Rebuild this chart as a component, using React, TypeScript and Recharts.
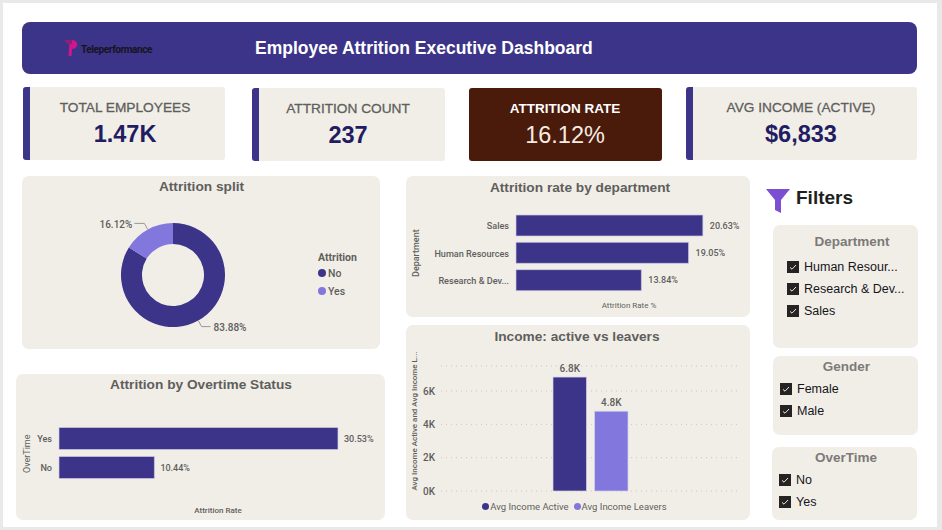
import React from "react";
import {
  Bar,
  BarChart,
  CartesianGrid,
  Cell,
  LabelList,
  Legend,
  Pie,
  PieChart,
  XAxis,
  YAxis
} from "recharts";

const splitNames = ["No", "Yes"];
const splitValues = [83.88, 16.12];

const departments = ["Sales", "Human Resources", "Research & Development"];
const departmentRates = [20.63, 19.05, 13.84];

const overtimeNames = ["Yes", "No"];
const overtimeRates = [30.53, 10.44];

const incomeActive = 6833;
const incomeLeavers = 4787;
const incomeTicks = [0, 2000, 4000, 6000];

const kpis = [
  { title: "TOTAL EMPLOYEES", value: "1.47K" },
  { title: "ATTRITION COUNT", value: "237" },
  { title: "ATTRITION RATE", value: "16.12%" },
  { title: "AVG INCOME (ACTIVE)", value: "$6,833" }
];
const kpiBoxes = [
  { x: 23, y: 87, w: 202, h: 73, cx: 125 },
  { x: 252, y: 88, w: 193, h: 73, cx: 348 },
  { x: 469, y: 88, w: 193, h: 73, cx: 565 },
  { x: 686, y: 87, w: 231, h: 73, cx: 801 }
];

const departmentFilter = ["Human Resour...", "Research & Dev...", "Sales"];
const genderFilter = ["Female", "Male"];
const overtimeFilter = ["No", "Yes"];

const PURPLE = "#3c3488";
const LILAC = "#8177dd";
const CARD = "#f1eee8";
const TEXT = "#605e5c";
const UI_FONT = "'Liberation Sans', Arial, sans-serif";
const CHART_FONT = "Roboto, 'Noto Sans', sans-serif";

const splitData = splitNames.map((name, i) => ({ name, value: splitValues[i] }));
const departmentData = departments.map((name, i) => ({ name, rate: departmentRates[i] }));
const overtimeData = overtimeNames.map((name, i) => ({ name, rate: overtimeRates[i] }));
const incomeData = [{ name: "Income", active: incomeActive, leavers: incomeLeavers }];

const tickStyle = { fontSize: 10, fontFamily: CHART_FONT, fontWeight: 500, fill: TEXT };
const nameTickStyle = { fontSize: 9.1, fontFamily: CHART_FONT, fontWeight: 500, fill: TEXT };
const axisTitle = { fontSize: 8, fontFamily: CHART_FONT, fontWeight: 500, fill: TEXT };
const barValueStyle = { fontSize: 9, fontFamily: CHART_FONT, fontWeight: 500, fill: TEXT };
const valueStyle = { fontSize: 10, fontFamily: CHART_FONT, fontWeight: 500, fill: TEXT };

function box(x: number, y: number, w: number, h: number, extra: React.CSSProperties = {}): React.CSSProperties {
  return { position: "absolute", left: x, top: y, width: w, height: h, ...extra };
}

function centered(text: string, cx: number, cy: number, style: React.CSSProperties) {
  return (
    <div
      style={{
        position: "absolute",
        left: cx - 150,
        top: cy - 15,
        width: 300,
        height: 30,
        lineHeight: "30px",
        textAlign: "center",
        whiteSpace: "nowrap",
        fontFamily: UI_FONT,
        ...style
      }}
    >
      {text}
    </div>
  );
}

function shortName(name: string) {
  return name.length > 18 ? name.slice(0, 14) + "..." : name;
}

function percentLabel(value: any) {
  return Number(value).toFixed(2) + "%";
}

function kiloLabel(value: any) {
  return (Number(value) / 1000).toFixed(1) + "K";
}

// the default tick wraps long names, Power BI keeps them on one line
function NameTick(props: any) {
  const { x, y, payload } = props;
  return (
    <text x={x - 1} y={y + 3.5} textAnchor="end" style={nameTickStyle}>
      {shortName(String(payload.value))}
    </text>
  );
}

function PieLabel(props: any) {
  const { cx, cy, midAngle, outerRadius, value } = props;
  const rad = (midAngle * Math.PI) / 180;
  const px = (r: number) => cx + r * Math.cos(rad);
  const py = (r: number) => cy - r * Math.sin(rad);
  const right = Math.cos(rad) > 0;
  const ex = px(outerRadius + 7);
  const ey = py(outerRadius + 7);
  const hx = ex + (right ? 9 : -10);
  return (
    <g>
      <polyline
        points={`${px(outerRadius)},${py(outerRadius)} ${ex},${ey} ${hx},${ey}`}
        fill="none"
        stroke="#9a9894"
        strokeWidth={1}
      />
      <text
        x={hx + (right ? 3 : -2)}
        y={ey + 4.5}
        textAnchor={right ? "start" : "end"}
        style={valueStyle}
      >
        {percentLabel(value)}
      </text>
    </g>
  );
}

function SplitLegend({ payload }: any) {
  return (
    <div style={{ fontFamily: CHART_FONT, fontSize: 10.5, color: TEXT, fontWeight: 500 }}>
      <div style={{ height: 13, lineHeight: "14px", fontWeight: 700 }}>Attrition</div>
      {(payload || []).map((item: any) => (
        <div key={item.value} style={{ display: "flex", alignItems: "center", height: 18 }}>
          <span
            style={{ width: 8, height: 8, borderRadius: 4, background: item.color, margin: "0 2px 0 0" }}
          />
          {item.value}
        </div>
      ))}
    </div>
  );
}

function IncomeLegend({ payload }: any) {
  return (
    <div
      style={{
        display: "flex",
        justifyContent: "center",
        gap: 5,
        paddingTop: 10,
        marginLeft: 4,
        fontFamily: CHART_FONT,
        fontSize: 9.5,
        color: TEXT
      }}
    >
      {(payload || []).map((item: any) => (
        <span key={item.value} style={{ display: "flex", alignItems: "center", gap: 1 }}>
          <span style={{ width: 7, height: 7, borderRadius: 4, background: item.color }} />
          {item.value}
        </span>
      ))}
    </div>
  );
}

function FilterCard(props: {
  x: number;
  y: number;
  w: number;
  h: number;
  title: string;
  titleX: number;
  items: string[];
  boxX: number;
  firstRow: number;
  titleY: number;
}) {
  const { x, y, w, h, title, titleX, items, boxX, firstRow, titleY } = props;
  return (
    <>
      <div style={box(x, y, w, h, { background: CARD, borderRadius: 7 })} />
      {centered(title, titleX, titleY, { fontSize: 13.5, fontWeight: 700, color: "#7c7a78" })}
      {items.map((item, i) => {
        const rowY = firstRow + i * 22;
        return (
          <React.Fragment key={item}>
            <svg style={box(boxX, rowY - 6, 12, 12)} viewBox="0 0 12 12">
              <rect width="12" height="12" fill="#252423" />
              <path d="M3 6.4 L5 8.2 L9 4" fill="none" stroke="#fff" strokeWidth="0.9" />
            </svg>
            <div
              style={{
                position: "absolute",
                left: boxX + 17,
                top: rowY - 10,
                height: 20,
                lineHeight: "20px",
                fontSize: 12.5,
                fontFamily: UI_FONT,
                color: "#16151a",
                whiteSpace: "nowrap"
              }}
            >
              {item}
            </div>
          </React.Fragment>
        );
      })}
    </>
  );
}

export default function App() {
  return (
    <div style={box(0, 0, 942, 530, { background: "#e9e9e9", overflow: "hidden", position: "fixed" })}>
      <div style={box(3, 3, 934, 524, { background: "#fff" })} />

      {/* header */}
      <div style={box(22, 22, 895, 52, { background: PURPLE, borderRadius: 8 })} />
      <svg style={box(63, 39, 16, 18)} viewBox="0 0 16 18">
        <path d="M1 1 H9 V5 H5 L4 5 Z" fill="#8c1f78" />
        <path d="M9 1 C16 1 16 10 9 10 L8.5 17 H5.5 L6.5 5 H9 Z" fill="#d3158c" />
      </svg>
      <div
        style={{
          position: "absolute",
          left: 81,
          top: 43,
          height: 14,
          lineHeight: "14px",
          fontFamily: "Roboto, sans-serif",
          fontWeight: 700,
          fontSize: 10,
          letterSpacing: -0.4,
          color: "#17131f"
        }}
      >
        Teleperformance
      </div>
      <div
        style={{
          position: "absolute",
          left: 255,
          top: 33,
          height: 30,
          lineHeight: "30px",
          fontFamily: UI_FONT,
          fontWeight: 700,
          fontSize: 17.5,
          color: "#fff",
          whiteSpace: "nowrap"
        }}
      >
        Employee Attrition Executive Dashboard
      </div>

      {/* kpi cards */}
      {kpis.map((kpi, i) => {
        const b = kpiBoxes[i];
        const dark = i === 2;
        return (
          <React.Fragment key={kpi.title}>
            <div
              style={box(b.x, b.y, b.w, b.h, {
                background: dark ? "#4a1a0b" : CARD,
                borderRadius: 3,
                overflow: "hidden"
              })}
            >
              {!dark && <div style={box(0, 0, 7, b.h, { background: PURPLE })} />}
            </div>
            {centered(kpi.title, b.cx, b.y + 21, {
              fontSize: dark ? 13.5 : 13.7,
              fontWeight: dark ? 700 : 400,
              color: dark ? "#fff" : TEXT,
              WebkitTextStroke: dark ? undefined : "0.3px " + TEXT
            })}
            {centered(kpi.value, b.cx, b.y + 46.5, {
              fontSize: 23.5,
              fontWeight: dark ? 400 : 700,
              color: dark ? "#f6ebe2" : "#221c62"
            })}
          </React.Fragment>
        );
      })}

      {/* attrition split */}
      <div style={box(22, 176, 358, 173, { background: CARD, borderRadius: 7 })} />
      {centered("Attrition split", 201.5, 187, { fontSize: 13.7, fontWeight: 700, color: TEXT })}
      <div style={box(22, 176, 358, 173)}>
        <PieChart width={358} height={173} margin={{ top: 0, right: 0, bottom: 0, left: 0 }}>
          <Pie
            data={splitData}
            dataKey="value"
            nameKey="name"
            cx={151}
            cy={99}
            innerRadius={31}
            outerRadius={52}
            startAngle={90}
            endAngle={-270}
            stroke="none"
            label={PieLabel}
            labelLine={false}
            isAnimationActive={false}
          >
            <Cell fill={PURPLE} />
            <Cell fill={LILAC} />
          </Pie>
          <Legend
            layout="vertical"
            align="right"
            verticalAlign="top"
            content={SplitLegend}
            wrapperStyle={{ left: 296, top: 75, width: 60 }}
          />
        </PieChart>
      </div>

      {/* overtime */}
      <div style={box(16, 374, 369, 146, { background: CARD, borderRadius: 7 })} />
      {centered("Attrition by Overtime Status", 201, 385, { fontSize: 13.7, fontWeight: 700, color: TEXT })}
      <div style={box(16, 374, 369, 146)}>
        <BarChart
          layout="vertical"
          width={369}
          height={146}
          data={overtimeData}
          margin={{ top: 50, right: 8, bottom: 0, left: 0 }}
          barCategoryGap={3.5}
        >
          <XAxis
            type="number"
            domain={[0, 34.8]}
            tick={false}
            axisLine={false}
            tickLine={false}
            height={38}
            label={{ value: "Attrition Rate", position: "insideBottom", offset: 7, style: axisTitle }}
          />
          <YAxis
            type="category"
            dataKey="name"
            width={43}
            axisLine={false}
            tickLine={false}
            tickMargin={0}
            tick={NameTick}
            label={{ value: "OverTime", angle: -90, position: "insideLeft", offset: 11, dy: 20, style: { fontSize: 9, fontFamily: CHART_FONT, fill: TEXT } }}
          />
          <Bar dataKey="rate" fill={PURPLE} stroke="#cbc8e2" strokeWidth={0.7} isAnimationActive={false}>
            <LabelList dataKey="rate" position="right" offset={6} formatter={percentLabel} style={barValueStyle} />
          </Bar>
        </BarChart>
      </div>

      {/* department */}
      <div style={box(406, 176, 344, 141, { background: CARD, borderRadius: 7 })} />
      {centered("Attrition rate by department", 580, 188, { fontSize: 13.7, fontWeight: 700, color: TEXT })}
      <div style={box(406, 176, 344, 141)}>
        <BarChart
          layout="vertical"
          width={344}
          height={141}
          data={departmentData}
          margin={{ top: 36, right: 8, bottom: 0, left: 0 }}
          barCategoryGap={3}
        >
          <XAxis
            type="number"
            domain={[0, 24.95]}
            tick={false}
            axisLine={false}
            tickLine={false}
            height={23}
            label={{ value: "Attrition Rate %", position: "insideBottom", offset: 9, style: { ...axisTitle, fontWeight: 400 } }}
          />
          <YAxis
            type="category"
            dataKey="name"
            width={110}
            axisLine={false}
            tickLine={false}
            tickMargin={0}
            tick={NameTick}
            interval={0}
            label={{ value: "Department", angle: -90, position: "insideLeft", offset: 10, dy: 24, style: { ...axisTitle, fontSize: 9 } }}
          />
          <Bar dataKey="rate" fill={PURPLE} stroke="#cbc8e2" strokeWidth={0.7} isAnimationActive={false}>
            <LabelList dataKey="rate" position="right" offset={7} formatter={percentLabel} style={barValueStyle} />
          </Bar>
        </BarChart>
      </div>

      {/* income */}
      <div style={box(406, 325, 344, 195, { background: CARD, borderRadius: 7 })} />
      {centered("Income: active vs leavers", 577, 337, { fontSize: 13.7, fontWeight: 700, color: TEXT })}
      <div style={box(406, 325, 344, 195)}>
        <BarChart
          width={344}
          height={195}
          data={incomeData}
          margin={{ top: 41, right: 11, bottom: 0, left: 0 }}
          barSize={33.5}
          barGap={8}
        >
          <CartesianGrid vertical={false} stroke="#c9c7c2" strokeDasharray="1 4" />
          <XAxis dataKey="name" hide />
          <YAxis
            type="number"
            width={35}
            domain={[0, 7500]}
            ticks={incomeTicks}
            axisLine={false}
            tickLine={false}
            tickMargin={0}
            tick={tickStyle}
            tickFormatter={(v: number) => v / 1000 + "K"}
            label={{
              value: "Avg Income Active and Avg Income L...",
              angle: -90,
              position: "insideLeft",
              offset: 8,
              dy: 62,
              style: axisTitle
            }}
          />
          <Legend verticalAlign="bottom" height={29} content={IncomeLegend} />
          <Bar dataKey="active" name="Avg Income Active" fill={PURPLE} stroke="#d6d3ea" strokeWidth={0.7} isAnimationActive={false}>
            <LabelList dataKey="active" position="top" offset={5} formatter={kiloLabel} style={valueStyle} />
          </Bar>
          <Bar dataKey="leavers" name="Avg Income Leavers" fill={LILAC} stroke="#d6d3ea" strokeWidth={0.7} isAnimationActive={false}>
            <LabelList dataKey="leavers" position="top" offset={5} formatter={kiloLabel} style={valueStyle} />
          </Bar>
        </BarChart>
      </div>

      {/* filters */}
      <svg style={box(766, 188, 24, 26)} viewBox="0 0 24 26">
        <path d="M0 1 H24 L15 12 V25 L9 22 V12 Z" fill="#7b4fd1" />
      </svg>
      <div
        style={{
          position: "absolute",
          left: 796,
          top: 183,
          height: 30,
          lineHeight: "30px",
          fontFamily: UI_FONT,
          fontWeight: 700,
          fontSize: 19,
          color: "#201f1e"
        }}
      >
        Filters
      </div>
      <FilterCard x={773} y={225} w={145} h={123} title="Department" titleX={852} items={departmentFilter} boxX={787} firstRow={267} titleY={242} />
      <FilterCard x={773} y={356} w={145} h={79} title="Gender" titleX={846.5} items={genderFilter} boxX={780} firstRow={388.5} titleY={367} />
      <FilterCard x={772} y={447} w={145} h={73} title="OverTime" titleX={846} items={overtimeFilter} boxX={779} firstRow={480} titleY={458} />
    </div>
  );
}
